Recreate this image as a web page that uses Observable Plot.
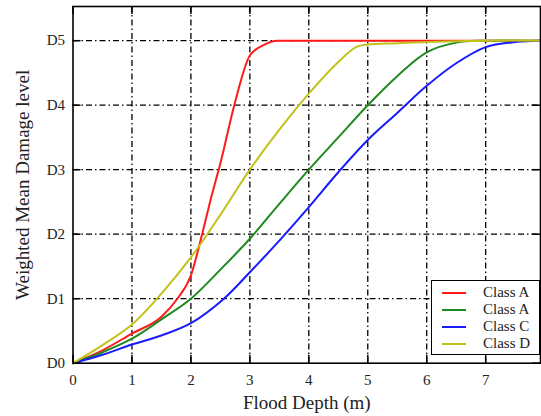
<!DOCTYPE html>
<html>
<head>
<meta charset="utf-8">
<script src="https://cdn.jsdelivr.net/npm/d3@7"></script>
<script src="https://cdn.jsdelivr.net/npm/@observablehq/plot@0.6"></script>
<style>
  html, body { margin: 0; padding: 0; background: #fff; }
  #chart { position: relative; width: 541px; height: 416px; font-family: "Liberation Serif", "DejaVu Serif", serif; }
  #legend { position: absolute; left: 431px; top: 280px; width: 109px; height: 75px; box-sizing: border-box;
            border: 1.5px solid #000; background: #fff; }
  #legend .row { position: absolute; left: 0; height: 17px; width: 100%; }
  #legend .sw { position: absolute; left: 10px; top: 7.5px; width: 24px; height: 0; border-top: 2px solid; }
  #legend .lb { position: absolute; left: 51px; top: 0; line-height: 17px; font-size: 15px; color: #222; white-space: nowrap; }
</style>
</head>
<body>
<div id="chart"></div>
<script>
// ---- data ----
const seriesNames = ["Class A", "Class A", "Class C", "Class D"];
const seriesColors = ["#ff1a1a", "#1f8a1f", "#1a1aff", "#c2c21a"];

const redX   = [0, 0.5, 1, 1.5, 1.77, 2, 2.19, 2.33, 2.5, 2.75, 3, 3.25, 3.46, 4, 5, 6, 7, 7.93];
const redY   = [0, 0.2, 0.46, 0.72, 1.0, 1.36, 2.0, 2.52, 3.1, 4.05, 4.77, 4.94, 5, 5, 5, 5, 5, 5];

const greenX = [0, 0.5, 1, 1.5, 2, 2.5, 3, 3.5, 4, 4.5, 5, 5.5, 6, 6.5, 7, 7.93];
const greenY = [0, 0.17, 0.38, 0.68, 1.0, 1.45, 1.93, 2.47, 3.0, 3.5, 4.0, 4.45, 4.82, 4.97, 5, 5];

const blueX  = [0, 0.5, 1, 1.5, 2, 2.56, 3, 3.5, 4, 4.5, 5, 5.5, 6, 6.5, 7, 7.5, 7.93];
const blueY  = [0, 0.13, 0.29, 0.43, 0.62, 1.0, 1.41, 1.9, 2.42, 2.96, 3.46, 3.88, 4.3, 4.65, 4.9, 4.98, 5];

const yellowX = [0, 0.5, 1, 1.5, 2, 2.5, 3, 3.5, 4, 4.5, 4.8, 5, 5.5, 6, 6.5, 7, 7.93];
const yellowY = [0, 0.28, 0.6, 1.08, 1.64, 2.3, 3.0, 3.62, 4.18, 4.67, 4.9, 4.94, 4.96, 4.98, 4.99, 5, 5];

const xTicks = [0, 1, 2, 3, 4, 5, 6, 7];
const yTicks = [0, 1, 2, 3, 4, 5];
const yTickLabels = ["D0", "D1", "D2", "D3", "D4", "D5"];
const xLabel = "Flood Depth (m)";
const yLabel = "Weighted Mean Damage level";

// ---- build table ----
const seriesXY = [[redX, redY], [greenX, greenY], [blueX, blueY], [yellowX, yellowY]];
const rows = seriesXY.flatMap(([xs, ys], i) => xs.map((x, j) => ({series: i, x, y: ys[j]})));

const W = 541, H = 416;
const mL = 72.5, mR = 1, mT = 6, mB = 53.3;
const plotW = W - mL - mR, plotH = H - mT - mB;
const tickLen = 8;
const font = '"Liberation Serif", "DejaVu Serif", serif';

const chart = Plot.plot({
  width: W, height: H,
  marginLeft: mL, marginRight: mR, marginTop: mT, marginBottom: mB,
  style: {fontFamily: font, background: "#fff", color: "#222"},
  x: {domain: [0, 7.93]},
  y: {domain: [0, 5.53]},
  marks: [
    Plot.gridX(xTicks.slice(1), {stroke: "#000", strokeOpacity: 1, strokeWidth: 1.3, strokeDasharray: "6,3,1.5,3"}),
    Plot.gridY(yTicks.slice(1), {stroke: "#000", strokeOpacity: 1, strokeWidth: 1.3, strokeDasharray: "6,3,1.5,3"}),
    // inward ticks on all four sides
    Plot.tickX(xTicks, {x: d => d, stroke: "#000", strokeWidth: 1.5, insetTop: plotH - tickLen}),
    Plot.tickX(xTicks, {x: d => d, stroke: "#000", strokeWidth: 1.5, insetBottom: plotH - tickLen}),
    Plot.tickY(yTicks, {y: d => d, stroke: "#000", strokeWidth: 1.5, insetRight: plotW - tickLen}),
    Plot.tickY(yTicks, {y: d => d, stroke: "#000", strokeWidth: 1.5, insetLeft: plotW - tickLen}),
    Plot.line(rows.filter(r => r.series === 0), {x: "x", y: "y", stroke: seriesColors[0], strokeWidth: 2, curve: "monotone-x"}),
    Plot.line(rows.filter(r => r.series !== 0), {x: "x", y: "y", z: "series", stroke: d => seriesColors[d.series], strokeWidth: 2, curve: "catmull-rom"}),
    Plot.frame({stroke: "#000", strokeWidth: 1.6}),
    Plot.axisX(xTicks, {tickSize: 0, tickPadding: 11, fontSize: 15, label: null, tickFormat: d => String(d)}),
    Plot.axisY(yTicks, {tickSize: 0, tickPadding: 8, fontSize: 15, label: null, tickFormat: d => yTickLabels[d]}),
    Plot.text([xLabel], {text: d => d, frameAnchor: "bottom", dy: 46, fontSize: 19, fill: "#222"}),
    Plot.text([yLabel], {text: d => d, frameAnchor: "left", textAnchor: "middle", dx: -50, rotate: -90, fontSize: 19, fill: "#222"})
  ]
});

const root = document.getElementById("chart");
root.appendChild(chart);

// legend
const legend = document.createElement("div");
legend.id = "legend";
seriesNames.forEach((name, i) => {
  const row = document.createElement("div");
  row.className = "row";
  row.style.top = (3 + i * 17) + "px";
  const sw = document.createElement("span");
  sw.className = "sw";
  sw.style.borderTopColor = seriesColors[i];
  const lb = document.createElement("span");
  lb.className = "lb";
  lb.textContent = name;
  row.appendChild(sw); row.appendChild(lb);
  legend.appendChild(row);
});
root.appendChild(legend);
</script>
</body>
</html>
